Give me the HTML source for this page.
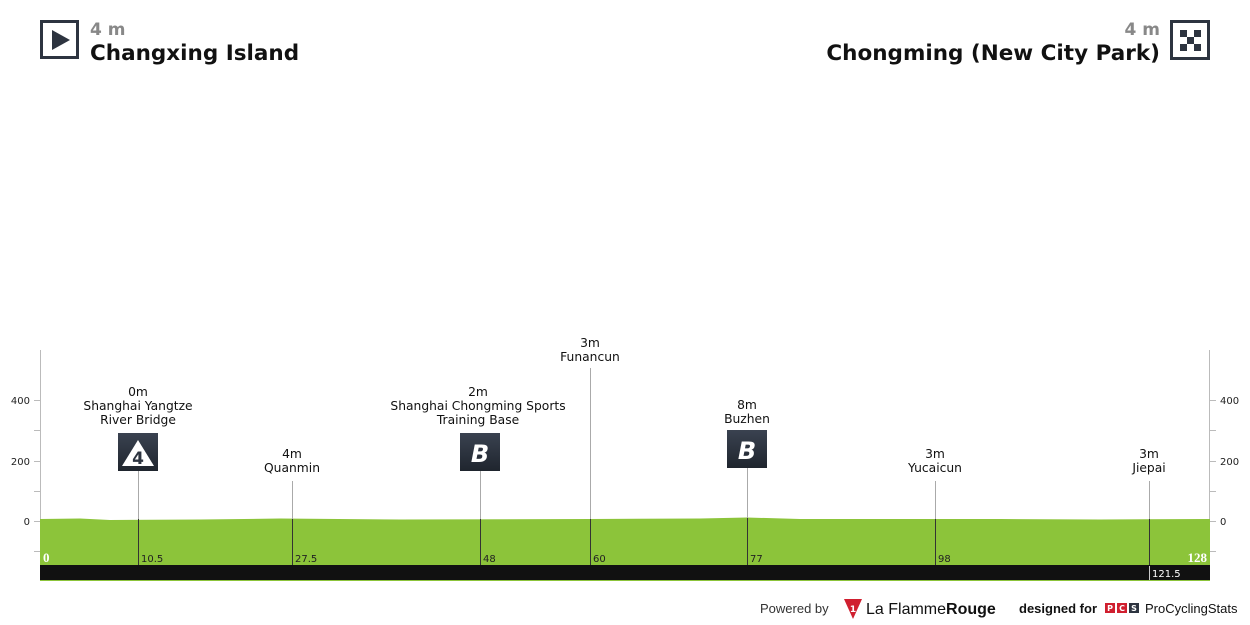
<!DOCTYPE html>
<html><head><meta charset="utf-8"><style>
html,body{margin:0;padding:0;background:#fff;width:1250px;height:625px;overflow:hidden}
svg{display:block}
text{font-family:"DejaVu Sans","Liberation Sans",sans-serif}
</style></head><body>
<svg width="1250" height="625" viewBox="0 0 1250 625" xmlns="http://www.w3.org/2000/svg">
<!-- header -->
<rect x="41.5" y="21.5" width="36" height="36" fill="#fff" stroke="#2d3440" stroke-width="3"/>
<polygon points="52,30 52,50 70,40" fill="#2d3440"/>
<text x="90" y="35" font-size="17" font-weight="bold" fill="#888">4 m</text>
<text x="90" y="60" font-size="21.5" font-weight="bold" fill="#111">Changxing Island</text>
<rect x="1171.5" y="21.5" width="37" height="37" fill="#fff" stroke="#2d3440" stroke-width="3"/>
<g fill="#2d3440">
<rect x="1180" y="30" width="7" height="7"/><rect x="1194" y="30" width="7" height="7"/>
<rect x="1187" y="37" width="7" height="7"/>
<rect x="1180" y="44" width="7" height="7"/><rect x="1194" y="44" width="7" height="7"/>
</g>
<text x="1160" y="35" font-size="17" font-weight="bold" fill="#888" text-anchor="end">4 m</text>
<text x="1160" y="60" font-size="21.5" font-weight="bold" fill="#111" text-anchor="end">Chongming (New City Park)</text>

<!-- axes -->
<g stroke="#bbb" stroke-width="1">
<line x1="40.5" y1="350" x2="40.5" y2="580"/>
<line x1="1209.5" y1="350" x2="1209.5" y2="580"/>
<line x1="34" y1="400.5" x2="40" y2="400.5"/><line x1="34" y1="430.5" x2="40" y2="430.5"/>
<line x1="34" y1="461.5" x2="40" y2="461.5"/><line x1="34" y1="491.5" x2="40" y2="491.5"/>
<line x1="34" y1="521.5" x2="40" y2="521.5"/><line x1="34" y1="551.5" x2="40" y2="551.5"/>
<line x1="1210" y1="400.5" x2="1216" y2="400.5"/><line x1="1210" y1="430.5" x2="1216" y2="430.5"/>
<line x1="1210" y1="461.5" x2="1216" y2="461.5"/><line x1="1210" y1="491.5" x2="1216" y2="491.5"/>
<line x1="1210" y1="521.5" x2="1216" y2="521.5"/><line x1="1210" y1="551.5" x2="1216" y2="551.5"/>
</g>
<g font-size="10" fill="#222">
<text x="30" y="404" text-anchor="end">400</text>
<text x="30" y="465" text-anchor="end">200</text>
<text x="30" y="525" text-anchor="end">0</text>
<text x="1220" y="404">400</text>
<text x="1220" y="465">200</text>
<text x="1220" y="525">0</text>
</g>

<!-- profile -->
<path d="M40,519 L80,518.5 L110,520 L200,519.5 L280,518.5 L400,519.5 L590,519 L700,518.5 L747,517.5 L800,519 L1000,519 L1100,519.5 L1210,519 L1210,565 L40,565 Z" fill="#8cc43a"/>
<rect x="40" y="565" width="1170" height="15" fill="#111"/>
<rect x="40" y="580" width="1170" height="1" fill="#8cc43a"/>
<text x="43" y="562" font-size="13" font-weight="bold" fill="#fff" style="font-family:'Liberation Serif',serif">0</text>
<text x="1207" y="562" font-size="13" font-weight="bold" fill="#fff" style="font-family:'Liberation Serif',serif" text-anchor="end">128</text>

<!-- marker lines -->
<g stroke-width="1">
<line x1="138.5" y1="471" x2="138.5" y2="519" stroke="#aaa"/><line x1="138.5" y1="519" x2="138.5" y2="565" stroke="#333"/>
<line x1="292.5" y1="481" x2="292.5" y2="519" stroke="#aaa"/><line x1="292.5" y1="519" x2="292.5" y2="565" stroke="#333"/>
<line x1="480.5" y1="471" x2="480.5" y2="519" stroke="#aaa"/><line x1="480.5" y1="519" x2="480.5" y2="565" stroke="#333"/>
<line x1="590.5" y1="368" x2="590.5" y2="519" stroke="#aaa"/><line x1="590.5" y1="519" x2="590.5" y2="565" stroke="#333"/>
<line x1="747.5" y1="468" x2="747.5" y2="518" stroke="#aaa"/><line x1="747.5" y1="518" x2="747.5" y2="565" stroke="#333"/>
<line x1="935.5" y1="481" x2="935.5" y2="519" stroke="#aaa"/><line x1="935.5" y1="519" x2="935.5" y2="565" stroke="#333"/>
<line x1="1149.5" y1="481" x2="1149.5" y2="519" stroke="#aaa"/><line x1="1149.5" y1="519" x2="1149.5" y2="565" stroke="#333"/>
<line x1="1149.5" y1="566" x2="1149.5" y2="580" stroke="#ccc"/>
</g>
<g font-size="10" fill="#222">
<text x="141" y="562">10.5</text>
<text x="295" y="562">27.5</text>
<text x="483" y="562">48</text>
<text x="593" y="562">60</text>
<text x="750" y="562">77</text>
<text x="938" y="562">98</text>
<text x="1152" y="577" fill="#fff">121.5</text>
</g>

<!-- icons -->
<defs><linearGradient id="g" x1="0" y1="0" x2="0" y2="1"><stop offset="0" stop-color="#3a4250"/><stop offset="1" stop-color="#1f252e"/></linearGradient></defs>
<rect x="118" y="433" width="40" height="38" fill="url(#g)"/>
<polygon points="138,440 122,466 154,466" fill="#fff"/>
<text x="138" y="464" font-size="17" font-weight="bold" fill="#2d3440" text-anchor="middle">4</text>
<rect x="460" y="433" width="40" height="38" fill="url(#g)"/>
<text x="480" y="462" font-size="24" font-weight="bold" font-style="italic" fill="#fff" text-anchor="middle">B</text>
<rect x="727" y="430" width="40" height="38" fill="url(#g)"/>
<text x="747" y="459" font-size="24" font-weight="bold" font-style="italic" fill="#fff" text-anchor="middle">B</text>

<!-- labels -->
<g font-size="12.3" fill="#111" text-anchor="middle">
<text x="138" y="396">0m</text><text x="138" y="410">Shanghai Yangtze</text><text x="138" y="424">River Bridge</text>
<text x="292" y="458">4m</text><text x="292" y="472">Quanmin</text>
<text x="478" y="396">2m</text><text x="478" y="410">Shanghai Chongming Sports</text><text x="478" y="424">Training Base</text>
<text x="590" y="347">3m</text><text x="590" y="361">Funancun</text>
<text x="747" y="409">8m</text><text x="747" y="423">Buzhen</text>
<text x="935" y="458">3m</text><text x="935" y="472">Yucaicun</text>
<text x="1149" y="458">3m</text><text x="1149" y="472">Jiepai</text>
</g>

<!-- footer -->
<text x="760" y="613" font-size="13" fill="#333" style="font-family:'Liberation Sans',sans-serif">Powered by</text>
<polygon points="844,599 862,599 853,619" fill="#d01f2f"/>
<text x="853" y="612" font-size="9" font-weight="bold" fill="#fff" text-anchor="middle">1</text>
<text x="866" y="614" font-size="16" fill="#111" style="font-family:'Liberation Sans',sans-serif">La Flamme<tspan font-weight="bold">Rouge</tspan></text>
<text x="1019" y="613" font-size="13" font-weight="bold" fill="#111" style="font-family:'Liberation Sans',sans-serif">designed for</text>
<rect x="1105" y="603" width="10" height="10" fill="#d01f2f"/><rect x="1117" y="603" width="10" height="10" fill="#d01f2f"/><rect x="1129" y="603" width="10" height="10" fill="#2d3440"/>
<g font-size="8" font-weight="bold" fill="#fff" text-anchor="middle"><text x="1110" y="611">P</text><text x="1122" y="611">C</text><text x="1134" y="611">S</text></g>
<text x="1145" y="613" font-size="13" fill="#111" style="font-family:'Liberation Sans',sans-serif">ProCyclingStats</text>
</svg>
</body></html>
